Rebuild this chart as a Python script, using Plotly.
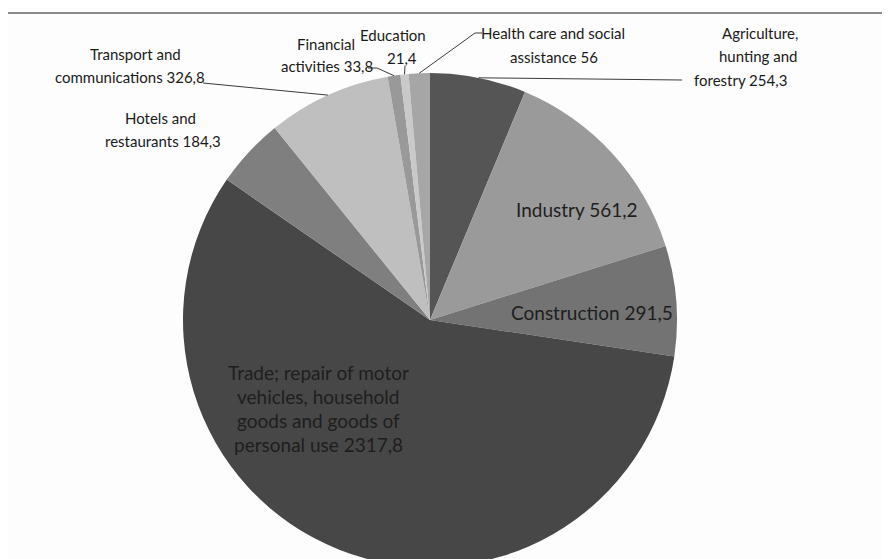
import math
import plotly.graph_objects as go

# values (comma decimals in the labels)
sectors = ["Agriculture, hunting and forestry", "Industry", "Construction",
           "Trade; repair of motor vehicles, household goods and goods of personal use",
           "Hotels and restaurants", "Transport and communications",
           "Financial activities", "Education", "Health care and social assistance"]
values = [254.3, 561.2, 291.5, 2317.8, 184.3, 326.8, 33.8, 21.4, 56]
colors = ["#555555", "#9a9a9a", "#737373", "#474747", "#7f7f7f",
          "#bfbfbf", "#999999", "#c9c9c9", "#a6a6a6"]
label_lines = [
    ["Agriculture,", "hunting and", "forestry 254,3"],
    ["Industry 561,2"],
    ["Construction 291,5"],
    ["Trade; repair of motor", "vehicles, household", "goods and goods of", "personal use 2317,8"],
    ["Hotels and", "restaurants 184,3"],
    ["Transport and", "communications 326,8"],
    ["Financial", "activities 33,8"],
    ["Education", "21,4"],
    ["Health care and social", "assistance 56"],
]

W, H = 890, 559
cx, cy, R = 422, 312, 247  # pie centre / radius in pixels

fig = go.Figure()
fig.add_trace(go.Pie(
    labels=sectors, values=values, sort=False, direction="clockwise", rotation=0,
    marker=dict(colors=colors, line=dict(width=0)),
    textinfo="none", hoverinfo="label+value", showlegend=False,
    domain=dict(x=[(cx - R) / W, (cx + R) / W], y=[0, 2 * R / H]),
))


def px(x, y):
    return x / W, 1 - y / H


def edge(i):
    # point on the rim at the middle of slice i
    total = sum(values)
    a = (sum(values[:i]) + values[i] / 2) / total * 2 * math.pi
    return cx + R * math.sin(a), cy - R * math.cos(a)


out_font = dict(family="Lato, 'Open Sans', sans-serif", size=15, color="#1a1a1a")
in_font = dict(family="Lato, 'Open Sans', sans-serif", size=19, color="#1e1e1e")

# centre x of each line, first-line y, line step (pixels)
label_pos = [
    ([752, 750, 732], 25, 23.5),
    ([569], 202, 24),
    ([584], 304, 24),
    ([310], 364, 24),
    ([152, 155], 110, 23),
    ([127, 122], 46, 23),
    ([318, 319], 36, 22),
    ([385, 394], 27, 23),
    ([545, 546], 25, 24),
]
inside = {1, 2, 3}
for i, (lines, (xs, y0, step)) in enumerate(zip(label_lines, label_pos)):
    for k, line in enumerate(lines):
        x = xs[k] if k < len(xs) else xs[0]
        ax, ay = px(x, y0 + k * step)
        fig.add_annotation(x=ax, y=ay, xref="paper", yref="paper", text=line, showarrow=False,
                           xanchor="center", yanchor="middle",
                           font=in_font if i in inside else out_font)

# leader lines: points near the label, then the rim
leaders = {
    0: [(674, 72)],
    5: [(195, 75)],
    6: [(360, 60), (369, 60)],
    7: [(397, 58)],
    8: [(474, 25), (467, 25)],
}
for i, pts in leaders.items():
    path = pts + [edge(i)]
    for (x0, y0), (x1, y1) in zip(path[:-1], path[1:]):
        a0, b0 = px(x0, y0)
        a1, b1 = px(x1, y1)
        fig.add_shape(type="line", xref="paper", yref="paper", x0=a0, y0=b0, x1=a1, y1=b1,
                      line=dict(color="#3a3a3a", width=1))

# top border of the chart area
fig.add_shape(type="line", xref="paper", yref="paper", x0=0, x1=1, y0=1 - 5 / H, y1=1 - 5 / H,
              line=dict(color="#8a8a8a", width=2))

fig.update_layout(width=W, height=H, margin=dict(l=0, r=0, t=0, b=0),
                  paper_bgcolor="#fdfdfd", plot_bgcolor="#fdfdfd")

fig.write_html("out.html")
